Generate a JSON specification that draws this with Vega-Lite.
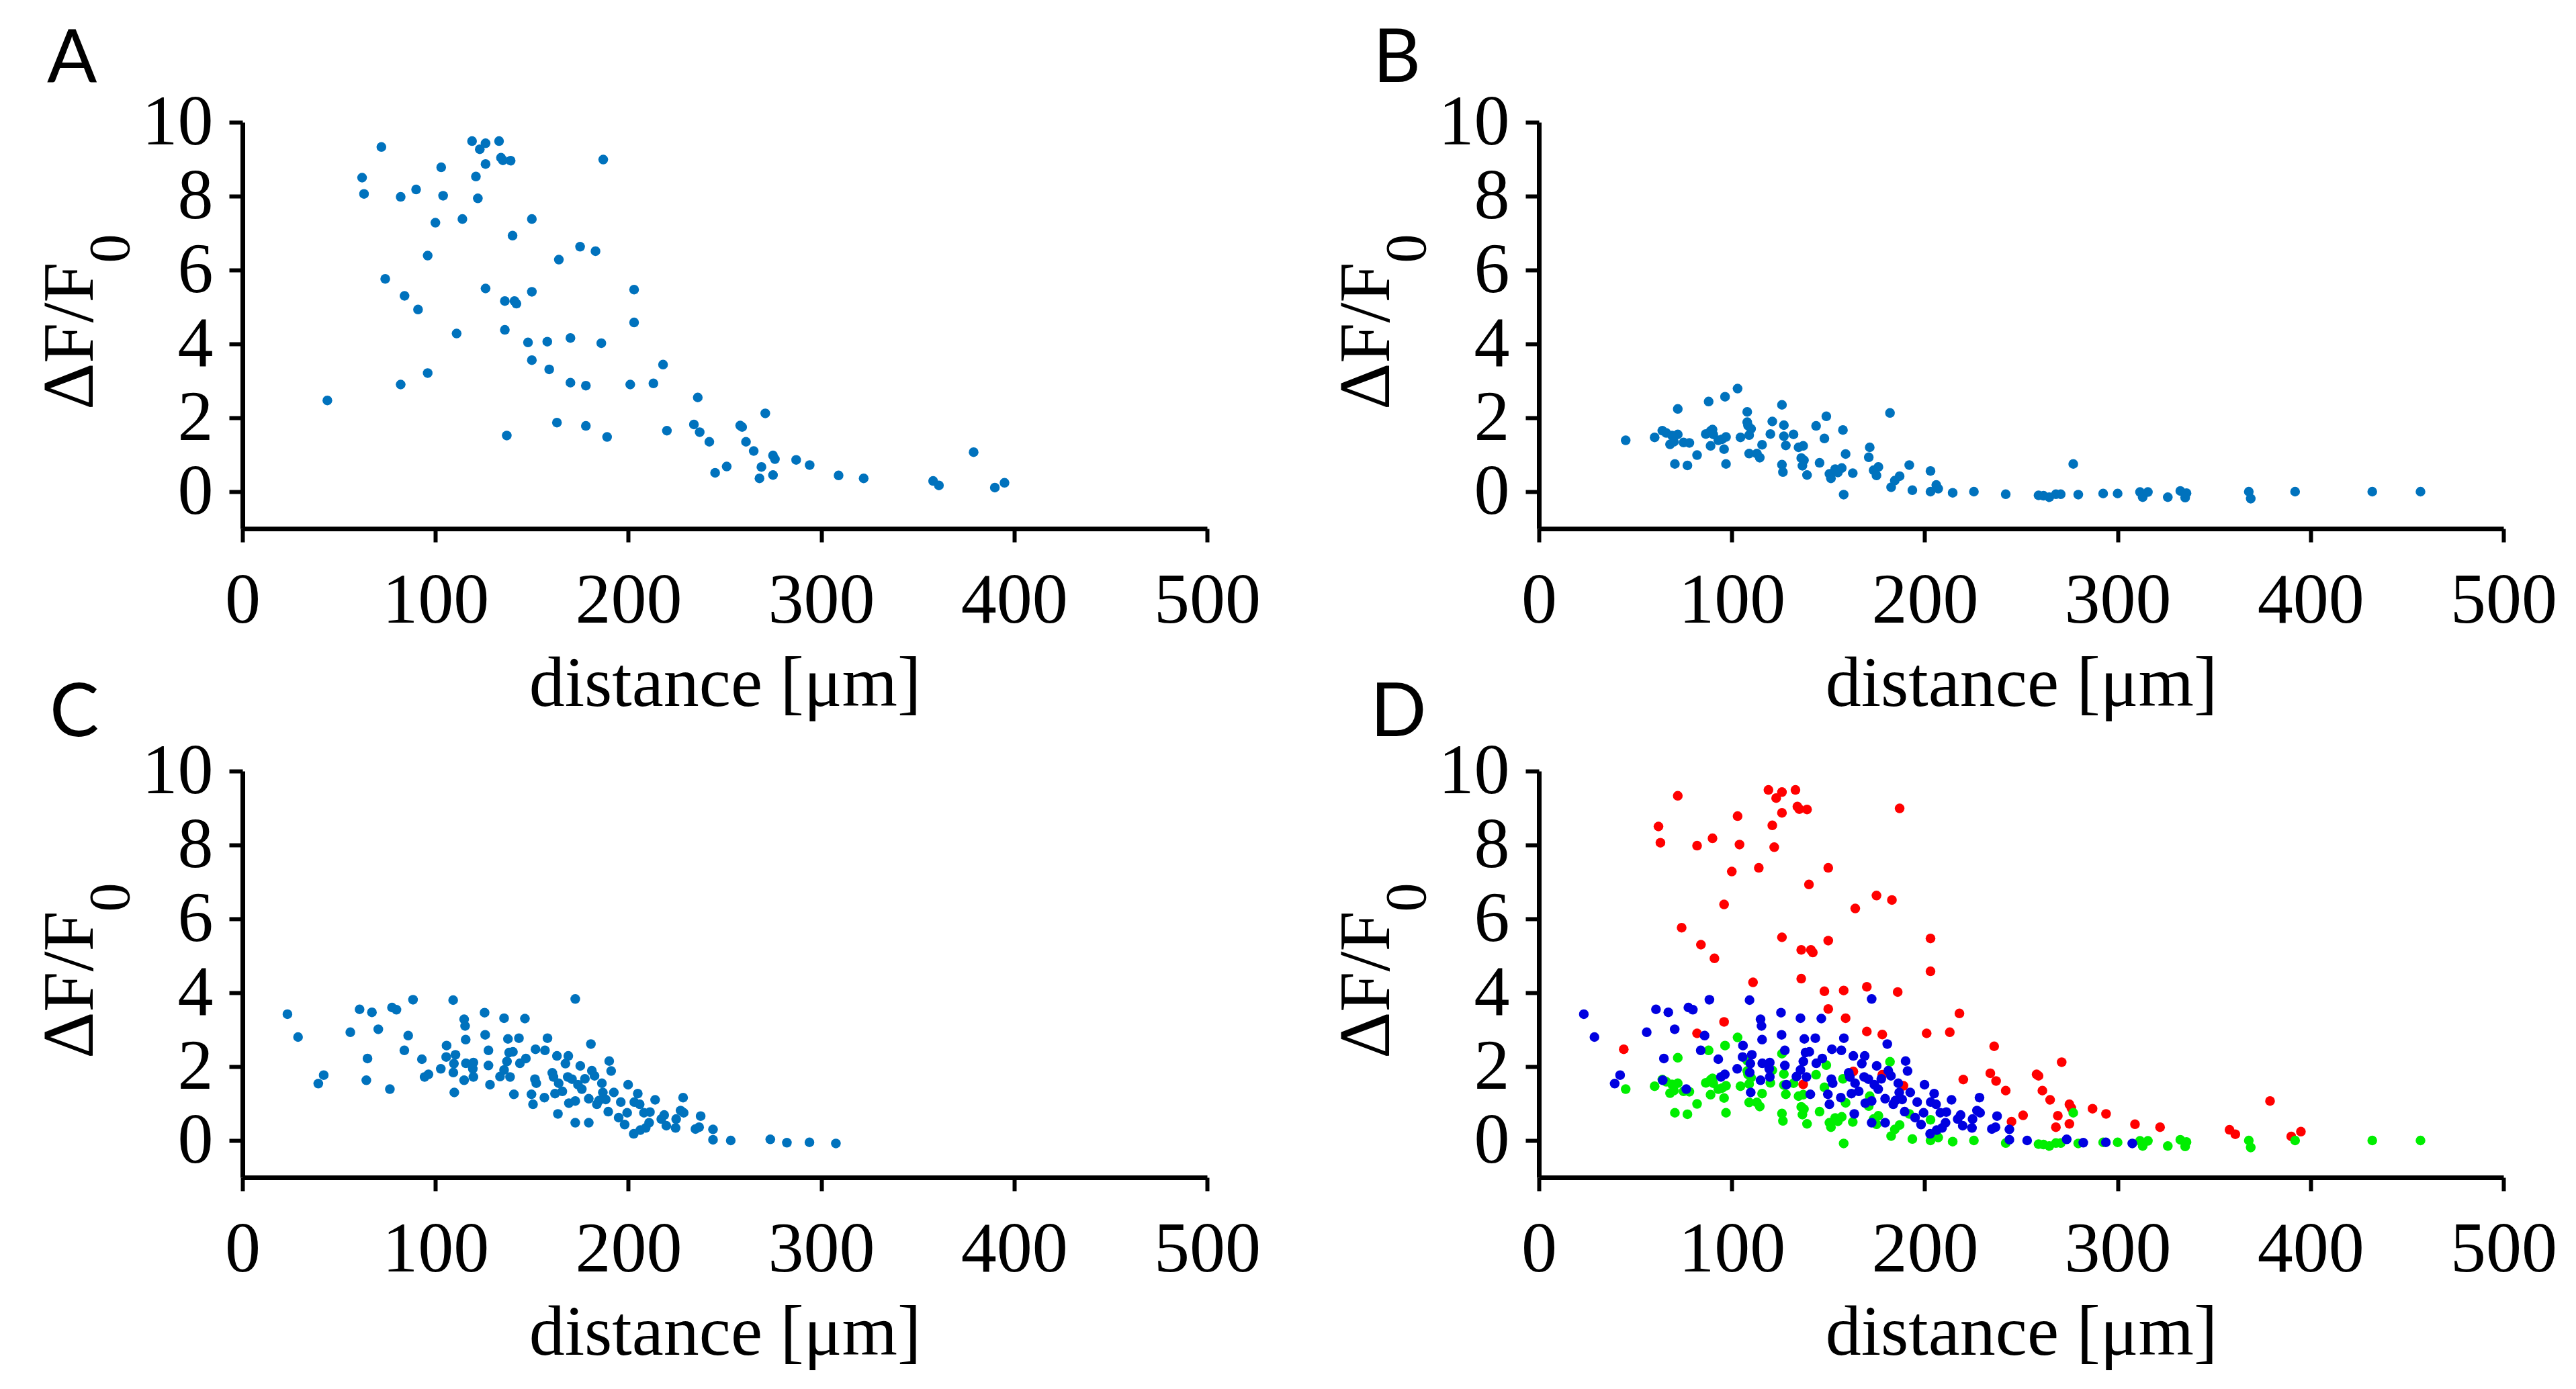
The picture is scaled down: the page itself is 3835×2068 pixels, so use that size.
{
  "$schema": "https://vega.github.io/schema/vega-lite/v6.json",
  "background": "white",
  "padding": {"left": 51, "top": 34, "right": 10, "bottom": 10},
  "datasets": {
    "pts": [
      {"s": "A", "x": 44, "y": 2.47}, {"s": "A", "x": 62, "y": 8.5}, {"s": "A", "x": 63, "y": 8.06}, {"s": "A", "x": 72, "y": 9.33},
      {"s": "A", "x": 74, "y": 5.76}, {"s": "A", "x": 82, "y": 7.98}, {"s": "A", "x": 82, "y": 2.9}, {"s": "A", "x": 84, "y": 5.3},
      {"s": "A", "x": 90, "y": 8.18}, {"s": "A", "x": 91, "y": 4.93}, {"s": "A", "x": 96, "y": 6.39}, {"s": "A", "x": 96, "y": 3.21},
      {"s": "A", "x": 100, "y": 7.28}, {"s": "A", "x": 103, "y": 8.78}, {"s": "A", "x": 104, "y": 8.01}, {"s": "A", "x": 111, "y": 4.28},
      {"s": "A", "x": 114, "y": 7.38}, {"s": "A", "x": 119, "y": 9.49}, {"s": "A", "x": 121, "y": 8.53}, {"s": "A", "x": 122, "y": 7.94},
      {"s": "A", "x": 123, "y": 9.27}, {"s": "A", "x": 126, "y": 9.43}, {"s": "A", "x": 126, "y": 8.87}, {"s": "A", "x": 126, "y": 5.5},
      {"s": "A", "x": 133, "y": 9.49}, {"s": "A", "x": 134, "y": 9.04}, {"s": "A", "x": 135, "y": 8.97}, {"s": "A", "x": 136, "y": 4.38},
      {"s": "A", "x": 136, "y": 5.16}, {"s": "A", "x": 137, "y": 1.52}, {"s": "A", "x": 139, "y": 8.96}, {"s": "A", "x": 140, "y": 6.93},
      {"s": "A", "x": 141, "y": 5.16}, {"s": "A", "x": 142, "y": 5.09}, {"s": "A", "x": 148, "y": 4.04}, {"s": "A", "x": 150, "y": 5.41},
      {"s": "A", "x": 150, "y": 3.56}, {"s": "A", "x": 150, "y": 7.38}, {"s": "A", "x": 158, "y": 4.06}, {"s": "A", "x": 159, "y": 3.31},
      {"s": "A", "x": 163, "y": 1.87}, {"s": "A", "x": 164, "y": 6.28}, {"s": "A", "x": 170, "y": 2.95}, {"s": "A", "x": 170, "y": 4.16},
      {"s": "A", "x": 175, "y": 6.63}, {"s": "A", "x": 178, "y": 2.87}, {"s": "A", "x": 178, "y": 1.78}, {"s": "A", "x": 183, "y": 6.51},
      {"s": "A", "x": 186, "y": 4.02}, {"s": "A", "x": 187, "y": 8.99}, {"s": "A", "x": 189, "y": 1.48}, {"s": "A", "x": 201, "y": 2.9},
      {"s": "A", "x": 203, "y": 5.47}, {"s": "A", "x": 203, "y": 4.58}, {"s": "A", "x": 213, "y": 2.93}, {"s": "A", "x": 218, "y": 3.44},
      {"s": "A", "x": 220, "y": 1.65}, {"s": "A", "x": 234, "y": 1.82}, {"s": "A", "x": 236, "y": 2.55}, {"s": "A", "x": 237, "y": 1.61},
      {"s": "A", "x": 242, "y": 1.35}, {"s": "A", "x": 245, "y": 0.51}, {"s": "A", "x": 251, "y": 0.68}, {"s": "A", "x": 258, "y": 1.79},
      {"s": "A", "x": 259, "y": 1.75}, {"s": "A", "x": 261, "y": 1.35}, {"s": "A", "x": 265, "y": 1.1}, {"s": "A", "x": 268, "y": 0.36},
      {"s": "A", "x": 269, "y": 0.67}, {"s": "A", "x": 271, "y": 2.12}, {"s": "A", "x": 275, "y": 0.45}, {"s": "A", "x": 275, "y": 0.98},
      {"s": "A", "x": 276, "y": 0.88}, {"s": "A", "x": 287, "y": 0.86}, {"s": "A", "x": 294, "y": 0.72}, {"s": "A", "x": 309, "y": 0.44},
      {"s": "A", "x": 322, "y": 0.36}, {"s": "A", "x": 358, "y": 0.29}, {"s": "A", "x": 361, "y": 0.17}, {"s": "A", "x": 379, "y": 1.07},
      {"s": "A", "x": 390, "y": 0.11}, {"s": "A", "x": 395, "y": 0.24},

      {"s": "B", "x": 45, "y": 1.39}, {"s": "B", "x": 60, "y": 1.47}, {"s": "B", "x": 64, "y": 1.65}, {"s": "B", "x": 66, "y": 1.59},
      {"s": "B", "x": 72, "y": 2.24}, {"s": "B", "x": 72, "y": 1.55}, {"s": "B", "x": 70.5, "y": 0.75}, {"s": "B", "x": 68, "y": 1.28},
      {"s": "B", "x": 69, "y": 1.52}, {"s": "B", "x": 70, "y": 1.35}, {"s": "B", "x": 75, "y": 1.33}, {"s": "B", "x": 78, "y": 1.32},
      {"s": "B", "x": 77, "y": 0.71}, {"s": "B", "x": 82, "y": 0.99}, {"s": "B", "x": 86.5, "y": 1.56}, {"s": "B", "x": 88, "y": 2.44},
      {"s": "B", "x": 89, "y": 1.24}, {"s": "B", "x": 89, "y": 1.64}, {"s": "B", "x": 90, "y": 1.68}, {"s": "B", "x": 90.4, "y": 1.55},
      {"s": "B", "x": 93, "y": 1.39}, {"s": "B", "x": 95, "y": 1.42}, {"s": "B", "x": 96.5, "y": 2.57}, {"s": "B", "x": 96, "y": 1.15},
      {"s": "B", "x": 97, "y": 1.48}, {"s": "B", "x": 97, "y": 0.75}, {"s": "B", "x": 103, "y": 2.79}, {"s": "B", "x": 104.5, "y": 1.47},
      {"s": "B", "x": 108, "y": 2.16}, {"s": "B", "x": 108, "y": 1.88}, {"s": "B", "x": 108.4, "y": 1.79}, {"s": "B", "x": 110, "y": 1.7},
      {"s": "B", "x": 109, "y": 1.53}, {"s": "B", "x": 109, "y": 1.03}, {"s": "B", "x": 113, "y": 1.03}, {"s": "B", "x": 114.5, "y": 0.92},
      {"s": "B", "x": 115.7, "y": 1.27}, {"s": "B", "x": 120, "y": 1.56}, {"s": "B", "x": 121, "y": 1.9}, {"s": "B", "x": 126, "y": 2.35},
      {"s": "B", "x": 127, "y": 1.8}, {"s": "B", "x": 127, "y": 1.5}, {"s": "B", "x": 128, "y": 1.25}, {"s": "B", "x": 126, "y": 0.73},
      {"s": "B", "x": 126.5, "y": 0.53}, {"s": "B", "x": 132, "y": 1.55}, {"s": "B", "x": 134.6, "y": 1.2}, {"s": "B", "x": 137, "y": 1.24},
      {"s": "B", "x": 136, "y": 0.91}, {"s": "B", "x": 137.4, "y": 0.85}, {"s": "B", "x": 136.6, "y": 0.7}, {"s": "B", "x": 139, "y": 0.45},
      {"s": "B", "x": 143.7, "y": 1.78}, {"s": "B", "x": 145.5, "y": 0.78}, {"s": "B", "x": 148, "y": 1.44}, {"s": "B", "x": 149, "y": 2.04},
      {"s": "B", "x": 150.6, "y": 0.48}, {"s": "B", "x": 151.4, "y": 0.36}, {"s": "B", "x": 153.6, "y": 0.61}, {"s": "B", "x": 155, "y": 0.52},
      {"s": "B", "x": 157, "y": 0.64}, {"s": "B", "x": 157.6, "y": 1.67}, {"s": "B", "x": 158, "y": -0.08}, {"s": "B", "x": 159, "y": 1.02},
      {"s": "B", "x": 162.7, "y": 0.5}, {"s": "B", "x": 171.5, "y": 1.2}, {"s": "B", "x": 171, "y": 0.93}, {"s": "B", "x": 173.5, "y": 0.58},
      {"s": "B", "x": 175, "y": 0.44}, {"s": "B", "x": 176, "y": 0.67}, {"s": "B", "x": 182, "y": 2.13}, {"s": "B", "x": 182.6, "y": 0.12},
      {"s": "B", "x": 184.5, "y": 0.3}, {"s": "B", "x": 187, "y": 0.42}, {"s": "B", "x": 192, "y": 0.72}, {"s": "B", "x": 193.6, "y": 0.04},
      {"s": "B", "x": 203, "y": 0.56}, {"s": "B", "x": 203, "y": 0.0}, {"s": "B", "x": 206, "y": 0.18}, {"s": "B", "x": 207, "y": 0.08},
      {"s": "B", "x": 214.5, "y": -0.03}, {"s": "B", "x": 225.5, "y": 0.0}, {"s": "B", "x": 242, "y": -0.07}, {"s": "B", "x": 259, "y": -0.1},
      {"s": "B", "x": 261.6, "y": -0.11}, {"s": "B", "x": 264.6, "y": -0.15}, {"s": "B", "x": 268, "y": -0.07}, {"s": "B", "x": 270.5, "y": -0.07},
      {"s": "B", "x": 277, "y": 0.75}, {"s": "B", "x": 279.6, "y": -0.08}, {"s": "B", "x": 292.5, "y": -0.05}, {"s": "B", "x": 300, "y": -0.05},
      {"s": "B", "x": 311.6, "y": -0.01}, {"s": "B", "x": 313, "y": -0.15}, {"s": "B", "x": 315.7, "y": -0.01}, {"s": "B", "x": 326, "y": -0.15},
      {"s": "B", "x": 332.5, "y": 0.02}, {"s": "B", "x": 335, "y": -0.16}, {"s": "B", "x": 335.7, "y": -0.04}, {"s": "B", "x": 368, "y": 0.0},
      {"s": "B", "x": 369, "y": -0.19}, {"s": "B", "x": 392, "y": 0.0}, {"s": "B", "x": 432, "y": 0.0}, {"s": "B", "x": 457, "y": 0.0},

      {"s": "C", "x": 23.3, "y": 3.42}, {"s": "C", "x": 28.8, "y": 2.8}, {"s": "C", "x": 39.3, "y": 1.54}, {"s": "C", "x": 42.1, "y": 1.77},
      {"s": "C", "x": 55.9, "y": 2.93}, {"s": "C", "x": 60.7, "y": 3.55}, {"s": "C", "x": 64.8, "y": 2.22}, {"s": "C", "x": 64.2, "y": 1.63},
      {"s": "C", "x": 67.1, "y": 3.47}, {"s": "C", "x": 70.4, "y": 3.01}, {"s": "C", "x": 77.5, "y": 3.6}, {"s": "C", "x": 79.8, "y": 3.54},
      {"s": "C", "x": 76.4, "y": 1.39}, {"s": "C", "x": 83.9, "y": 2.44}, {"s": "C", "x": 85.9, "y": 2.84}, {"s": "C", "x": 88.4, "y": 3.81},
      {"s": "C", "x": 93.0, "y": 2.2}, {"s": "C", "x": 94.4, "y": 1.72}, {"s": "C", "x": 96.4, "y": 1.79}, {"s": "C", "x": 102.8, "y": 1.94},
      {"s": "C", "x": 105.8, "y": 2.57}, {"s": "C", "x": 105.6, "y": 2.26}, {"s": "C", "x": 109.2, "y": 3.8}, {"s": "C", "x": 110.4, "y": 2.32},
      {"s": "C", "x": 109.6, "y": 2.08}, {"s": "C", "x": 109.3, "y": 1.84}, {"s": "C", "x": 109.8, "y": 1.3}, {"s": "C", "x": 114.9, "y": 3.28},
      {"s": "C", "x": 115.4, "y": 3.1}, {"s": "C", "x": 115.7, "y": 2.73}, {"s": "C", "x": 115.8, "y": 2.09}, {"s": "C", "x": 114.9, "y": 1.63},
      {"s": "C", "x": 119.7, "y": 2.11}, {"s": "C", "x": 119.4, "y": 1.94}, {"s": "C", "x": 119.7, "y": 1.72}, {"s": "C", "x": 125.5, "y": 3.46},
      {"s": "C", "x": 125.8, "y": 2.86}, {"s": "C", "x": 127.5, "y": 2.44}, {"s": "C", "x": 127.5, "y": 2.03}, {"s": "C", "x": 128.3, "y": 1.51},
      {"s": "C", "x": 133.5, "y": 1.73}, {"s": "C", "x": 135.6, "y": 3.31}, {"s": "C", "x": 135.6, "y": 1.91}, {"s": "C", "x": 137.6, "y": 2.75},
      {"s": "C", "x": 138.2, "y": 2.38}, {"s": "C", "x": 140.2, "y": 2.4}, {"s": "C", "x": 137.1, "y": 2.14}, {"s": "C", "x": 138.7, "y": 1.72},
      {"s": "C", "x": 140.7, "y": 1.25}, {"s": "C", "x": 143.3, "y": 2.77}, {"s": "C", "x": 143.8, "y": 2.09}, {"s": "C", "x": 146.4, "y": 3.3},
      {"s": "C", "x": 146.9, "y": 2.22}, {"s": "C", "x": 149.8, "y": 1.25}, {"s": "C", "x": 150.6, "y": 0.98}, {"s": "C", "x": 151.6, "y": 1.66},
      {"s": "C", "x": 152.3, "y": 1.55}, {"s": "C", "x": 151.9, "y": 2.47}, {"s": "C", "x": 156.5, "y": 1.16}, {"s": "C", "x": 156.8, "y": 2.44},
      {"s": "C", "x": 158.1, "y": 2.77}, {"s": "C", "x": 160.6, "y": 1.83}, {"s": "C", "x": 161.2, "y": 1.72}, {"s": "C", "x": 162.0, "y": 1.27},
      {"s": "C", "x": 163.0, "y": 2.29}, {"s": "C", "x": 163.5, "y": 0.72}, {"s": "C", "x": 163.9, "y": 1.55}, {"s": "C", "x": 165.8, "y": 1.33},
      {"s": "C", "x": 167.4, "y": 2.08}, {"s": "C", "x": 168.9, "y": 2.29}, {"s": "C", "x": 168.6, "y": 1.72}, {"s": "C", "x": 169.2, "y": 1.01},
      {"s": "C", "x": 170.8, "y": 1.66}, {"s": "C", "x": 172.5, "y": 3.83}, {"s": "C", "x": 172.5, "y": 1.07}, {"s": "C", "x": 172.5, "y": 0.48},
      {"s": "C", "x": 173.9, "y": 1.51}, {"s": "C", "x": 175.1, "y": 2.02}, {"s": "C", "x": 175.9, "y": 1.39}, {"s": "C", "x": 177.5, "y": 1.67},
      {"s": "C", "x": 179.5, "y": 1.13}, {"s": "C", "x": 179.5, "y": 0.48}, {"s": "C", "x": 180.6, "y": 2.61}, {"s": "C", "x": 181.1, "y": 1.89},
      {"s": "C", "x": 182.5, "y": 1.75}, {"s": "C", "x": 183.7, "y": 0.98}, {"s": "C", "x": 184.8, "y": 1.08}, {"s": "C", "x": 186.3, "y": 1.55},
      {"s": "C", "x": 186.8, "y": 1.3}, {"s": "C", "x": 188.3, "y": 1.11}, {"s": "C", "x": 189.6, "y": 0.78}, {"s": "C", "x": 190.1, "y": 2.15},
      {"s": "C", "x": 191.1, "y": 1.88}, {"s": "C", "x": 192.5, "y": 1.3}, {"s": "C", "x": 195.0, "y": 0.62}, {"s": "C", "x": 196.1, "y": 1.04},
      {"s": "C", "x": 198.1, "y": 0.43}, {"s": "C", "x": 199.4, "y": 0.75}, {"s": "C", "x": 199.9, "y": 1.51}, {"s": "C", "x": 202.8, "y": 0.18},
      {"s": "C", "x": 203.1, "y": 1.04}, {"s": "C", "x": 204.9, "y": 1.27}, {"s": "C", "x": 206.2, "y": 0.28}, {"s": "C", "x": 205.9, "y": 0.98},
      {"s": "C", "x": 208.1, "y": 0.75}, {"s": "C", "x": 209.0, "y": 0.34}, {"s": "C", "x": 210.8, "y": 0.48}, {"s": "C", "x": 211.2, "y": 0.77},
      {"s": "C", "x": 213.9, "y": 1.1}, {"s": "C", "x": 217.1, "y": 0.58}, {"s": "C", "x": 218.6, "y": 0.69}, {"s": "C", "x": 219.7, "y": 0.4},
      {"s": "C", "x": 224.5, "y": 0.34}, {"s": "C", "x": 224.8, "y": 0.58}, {"s": "C", "x": 227.1, "y": 0.81}, {"s": "C", "x": 228.4, "y": 1.16},
      {"s": "C", "x": 228.7, "y": 0.75}, {"s": "C", "x": 237.5, "y": 0.66}, {"s": "C", "x": 234.8, "y": 0.31}, {"s": "C", "x": 236.7, "y": 0.36},
      {"s": "C", "x": 243.9, "y": 0.3}, {"s": "C", "x": 243.9, "y": 0.02}, {"s": "C", "x": 253.1, "y": 0.0}, {"s": "C", "x": 273.6, "y": 0.03},
      {"s": "C", "x": 282.2, "y": -0.06}, {"s": "C", "x": 293.9, "y": -0.05}, {"s": "C", "x": 307.6, "y": -0.08}
    ]
  },
  "concat": [
    {
      "width": 1436,
      "height": 605,
      "title": {"text": "A", "dx": -291, "offset": -17},
      "data": {"name": "pts"},
      "transform": [{"filter": "datum.s === 'A'"}],
      "encoding": {
        "x": {"field": "x", "type": "quantitative", "scale": {"domain": [0, 500], "nice": false}, "axis": {"values": [0, 100, 200, 300, 400, 500], "title": "distance [μm]"}}
      },
      "layer": [
        {
          "mark": {"type": "circle", "size": 210, "opacity": 1, "color": "#0072BD"},
          "encoding": {"y": {"field": "y", "type": "quantitative", "scale": {"domain": [-1, 10], "nice": false, "zero": false}, "axis": {"values": [0, 2, 4, 6, 8, 10], "title": "ΔF/F"}}}
        },
        {
          "mark": {"type": "circle", "size": 210, "opacity": 0},
          "encoding": {"y": {"field": "y", "type": "quantitative", "axis": {"orient": "left", "title": "0", "domain": false, "ticks": false, "labels": false, "titleFontSize": 86, "titleX": -170, "titleY": 166}}}
        }
      ],
      "resolve": {"axis": {"y": "independent"}}
    },
    {
      "width": 1436,
      "height": 605,
      "title": {"text": "B", "dx": -247, "offset": -16},
      "data": {"name": "pts"},
      "transform": [{"filter": "datum.s === 'B'"}],
      "encoding": {
        "x": {"field": "x", "type": "quantitative", "scale": {"domain": [0, 500], "nice": false}, "axis": {"values": [0, 100, 200, 300, 400, 500], "title": "distance [μm]"}}
      },
      "layer": [
        {
          "mark": {"type": "circle", "size": 210, "opacity": 1, "color": "#0072BD"},
          "encoding": {"y": {"field": "y", "type": "quantitative", "scale": {"domain": [-1, 10], "nice": false, "zero": false}, "axis": {"values": [0, 2, 4, 6, 8, 10], "title": "ΔF/F"}}}
        },
        {
          "mark": {"type": "circle", "size": 210, "opacity": 0},
          "encoding": {"y": {"field": "y", "type": "quantitative", "axis": {"orient": "left", "title": "0", "domain": false, "ticks": false, "labels": false, "titleFontSize": 86, "titleX": -170, "titleY": 166}}}
        }
      ],
      "resolve": {"axis": {"y": "independent"}}
    },
    {
      "width": 1436,
      "height": 605,
      "title": {"text": "C", "dx": -287, "offset": -24},
      "data": {"name": "pts"},
      "transform": [{"filter": "datum.s === 'C'"}],
      "encoding": {
        "x": {"field": "x", "type": "quantitative", "scale": {"domain": [0, 500], "nice": false}, "axis": {"values": [0, 100, 200, 300, 400, 500], "title": "distance [μm]"}}
      },
      "layer": [
        {
          "mark": {"type": "circle", "size": 210, "opacity": 1, "color": "#0072BD"},
          "encoding": {"y": {"field": "y", "type": "quantitative", "scale": {"domain": [-1, 10], "nice": false, "zero": false}, "axis": {"values": [0, 2, 4, 6, 8, 10], "title": "ΔF/F"}}}
        },
        {
          "mark": {"type": "circle", "size": 210, "opacity": 0},
          "encoding": {"y": {"field": "y", "type": "quantitative", "axis": {"orient": "left", "title": "0", "domain": false, "ticks": false, "labels": false, "titleFontSize": 86, "titleX": -170, "titleY": 166}}}
        }
      ],
      "resolve": {"axis": {"y": "independent"}}
    },
    {
      "width": 1436,
      "height": 605,
      "title": {"text": "D", "dx": -251, "offset": -24},
      "data": {"name": "pts"},
      "encoding": {
        "x": {"field": "x", "type": "quantitative", "scale": {"domain": [0, 500], "nice": false}, "axis": {"values": [0, 100, 200, 300, 400, 500], "title": "distance [μm]"}}
      },
      "layer": [
        {
          "mark": {"type": "circle", "size": 210, "opacity": 1},
          "encoding": {
            "y": {"field": "y", "type": "quantitative", "scale": {"domain": [-1, 10], "nice": false, "zero": false}, "axis": {"values": [0, 2, 4, 6, 8, 10], "title": "ΔF/F"}},
            "color": {"field": "s", "type": "nominal", "scale": {"domain": ["A", "B", "C"], "range": ["#FF0000", "#00EE00", "#0000E0"]}, "legend": null}
          }
        },
        {
          "mark": {"type": "circle", "size": 210, "opacity": 0},
          "encoding": {"y": {"field": "y", "type": "quantitative", "axis": {"orient": "left", "title": "0", "domain": false, "ticks": false, "labels": false, "titleFontSize": 86, "titleX": -170, "titleY": 166}}}
        }
      ],
      "resolve": {"axis": {"y": "independent"}}
    }
  ],
  "columns": 2,
  "bounds": "flush",
  "spacing": {"row": 361, "column": 494},
  "config": {
    "view": {"stroke": null},
    "axis": {
      "grid": false,
      "domainColor": "#000",
      "domainWidth": 7,
      "tickColor": "#000",
      "tickWidth": 6,
      "tickSize": 20,
      "labelFont": "Liberation Serif",
      "labelFontSize": 106,
      "labelColor": "#000",
      "labelFlush": false,
      "labelOverlap": false,
      "labelBound": false,
      "titleFont": "Liberation Serif",
      "titleFontSize": 106,
      "titleFontWeight": "normal",
      "titleColor": "#000"
    },
    "axisX": {"labelPadding": 35, "titlePadding": 19},
    "axisY": {
      "labelPadding": 24,
      "titleFontSize": 108,
      "titleAngle": 270,
      "titleAlign": "right",
      "titleBaseline": "alphabetic",
      "titleX": -224,
      "titleY": 208
    },
    "title": {
      "anchor": "start",
      "frame": "group",
      "font": "Lato",
      "fontSize": 110,
      "fontWeight": "normal",
      "color": "#000",
      "baseline": "alphabetic"
    }
  }
}
